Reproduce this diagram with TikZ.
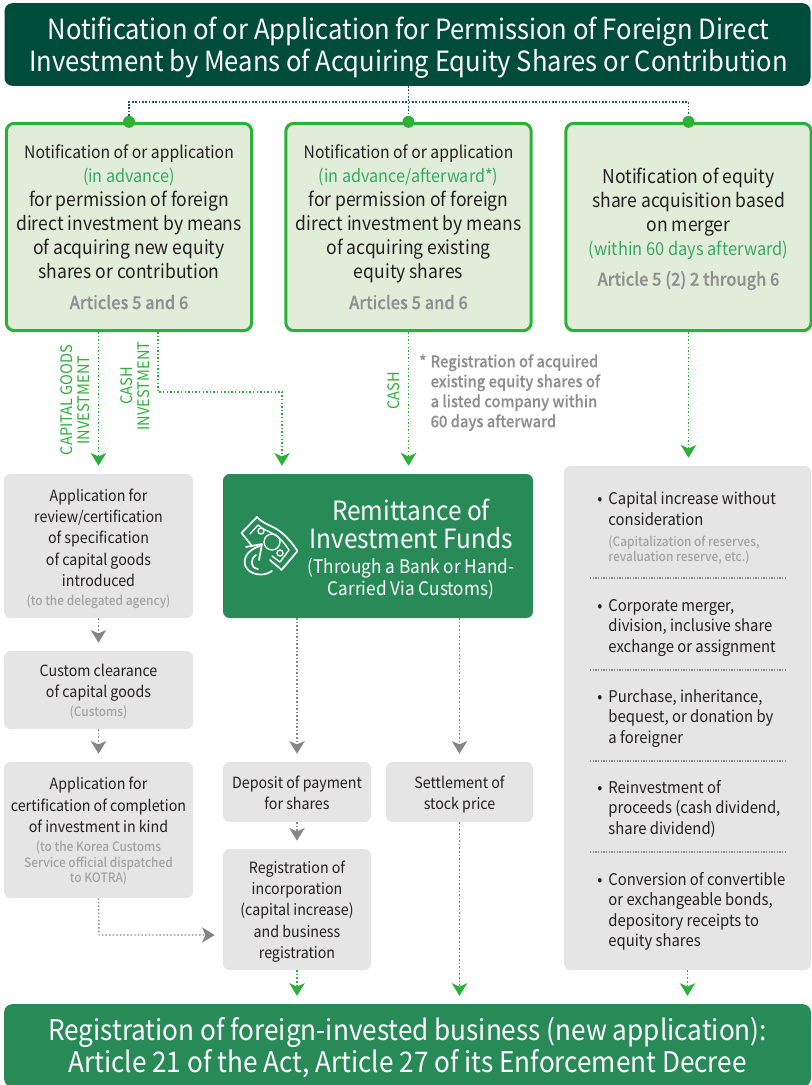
\documentclass[tikz,border=0pt]{standalone}
\usepackage{fontspec}
\setmainfont{Noto Sans CJK KR}[FakeStretch=0.92]
\newfontfamily\medfont{Noto Sans CJK KR}[UprightFont=* Medium, FakeStretch=0.92]
\newfontfamily\heavyfont{Noto Sans CJK KR}[UprightFont=* Medium, FakeStretch=0.92, FakeBold=0.3]
\usetikzlibrary{arrows.meta}
\definecolor{darkteal}{HTML}{004C3A}
\definecolor{midgreen}{HTML}{288A57}
\definecolor{linegreen}{HTML}{2BB03A}
\definecolor{palegreen}{HTML}{E1EDD8}
\definecolor{softgreen}{HTML}{37A866}
\definecolor{boxgray}{HTML}{E5E5E5}
\definecolor{notegray}{HTML}{8F8F8F}
\definecolor{subgray}{HTML}{A3A3A3}
\definecolor{arrowgray}{HTML}{858585}
\definecolor{inktext}{HTML}{231F20}
\newcommand{\fsz}[2]{\fontsize{#1}{#2}\selectfont}
\newcommand{\subtxt}[1]{{\fsz{9.7}{12}\color{subgray}\medfont #1}}
\newcommand{\arttxt}[1]{{\fsz{13.4}{18}\color{notegray}\heavyfont #1}}
\newcommand{\itembul}{\makebox[8.4pt][l]{\textbullet}}
\newcommand{\itemgap}{\hspace*{8.4pt}}
\newcommand{\topstrut}[1]{\rule{0pt}{#1}\ignorespaces}
\tikzset{
  every node/.style={inner sep=0pt, align=center, text=inktext},
  banner/.style={rounded corners=6pt, text=white},
  stepbox/.style={fill=boxgray, rounded corners=5pt, font=\fsz{11.6}{16}},
  greenbox/.style={draw=linegreen, line width=2.25pt, fill=palegreen,
    rounded corners=6pt, font=\fsz{14.3}{18}},
  listitem/.style={anchor=north west, align=left, font=\fsz{12.1}{15.4}},
  vlabel/.style={rotate=90, text=linegreen, font=\fsz{11.9}{13.2}},
  dotgreen/.style={draw=linegreen, dash pattern=on 1.1pt off 1.6pt, line width=1.1pt,
    -{Stealth[length=9.5pt, width=11.5pt, inset=2.5pt]}},
  dotgray/.style={draw=arrowgray, dash pattern=on 1.1pt off 1.6pt, line width=1.1pt,
    -{Stealth[length=9.5pt, width=11.5pt, inset=2.5pt]}},
  topline/.style={draw=darkteal!70!gray, dash pattern=on 1.1pt off 1.4pt, line width=1pt},
  divider/.style={draw=arrowgray, dash pattern=on 1pt off 1pt, line width=.8pt},
  knot/.style={circle, fill=linegreen, minimum size=9pt},
  iconline/.style={draw=white, line width=1.3pt, line join=round, line cap=round}
}
\begin{document}
\begin{tikzpicture}[x=0.75pt, y=-0.75pt]
  \useasboundingbox (0, 0) rectangle (811, 1085);

  % banners
  \node [banner, fill=darkteal, font=\fsz{20.85}{24}, minimum width=604.5pt, minimum height=62pt] (title) at (407.5, 44.5) {
    \topstrut{21.4pt}\hspace{1.5pt}Notification of or Application for Permission of Foreign Direct\\
    \hspace{1.5pt}Investment by Means of Acquiring Equity Shares or Contribution
  };
  \node [banner, fill=midgreen, font=\fsz{21.3}{24}, minimum width=605pt, minimum height=62pt] (register) at (407.5, 1045.5) {
    \topstrut{20.3pt}Registration of foreign-invested business (new application):\\
    Article 21 of the Act, Article 27 of its Enforcement Decree
  };

  % green boxes
  \node [greenbox, minimum width=184pt, minimum height=155.5pt] (newshares) at (129, 227) {
    {\fsz{12.8}{18}Notification of or application}\\
    {\fsz{13.2}{18}\color{softgreen}(in advance)}\\
    for permission of foreign\\
    direct investment by means\\
    of acquiring new equity\\
    shares or contribution\\[5pt]
    \arttxt{Articles 5 and 6}
  };
  \node [greenbox, minimum width=184pt, minimum height=155.5pt] (oldshares) at (408.5, 227) {
    {\fsz{12.8}{18}Notification of or application}\\
    {\fsz{13.2}{18}\color{softgreen}(in advance/afterward*)}\\
    for permission of foreign\\
    direct investment by means\\
    of acquiring existing\\
    equity shares\\[5pt]
    \arttxt{Articles 5 and 6}
  };
  \node [greenbox, minimum width=184pt, minimum height=155.5pt] (merger) at (688.5, 227) {
    \topstrut{14.4pt}Notification of equity\\
    share acquisition based\\
    on merger\\
    {\fsz{13.4}{18}\color{softgreen}(within 60 days afterward)}\\[5pt]
    \arttxt{Article 5 (2) 2 through 6}
  };
  \node [knot] (knotA) at (newshares.north) {};
  \node [knot] (knotB) at (oldshares.north) {};
  \node [knot] (knotC) at (merger.north) {};

  % gray boxes
  \node [stepbox, minimum width=141.75pt, minimum height=108pt] (review) at (98.5, 546) {
    \topstrut{13pt}Application for\\
    review/certification\\
    of specification\\
    of capital goods\\
    introduced\\[-2pt]
    \subtxt{(to the delegated agency)}
  };
  \node [stepbox, minimum width=141.75pt, minimum height=58.5pt] (customs) at (98.5, 690) {
    \topstrut{11.5pt}Custom clearance\\
    of capital goods\\[-1.5pt]
    \subtxt{(Customs)}
  };
  \node [stepbox, minimum width=141.75pt, minimum height=102pt] (kind) at (98.5, 830) {
    \topstrut{11.5pt}Application for\\
    certification of completion\\
    of investment in kind\\[-1.5pt]
    \subtxt{(to the Korea Customs}\\[-4.3pt]
    \subtxt{Service official dispatched}\\[-4.3pt]
    \subtxt{to KOTRA)}
  };
  \node [stepbox, minimum width=111pt, minimum height=45pt] (deposit) at (297, 792) {
    \topstrut{10.6pt}Deposit of payment\\
    for shares
  };
  \node [stepbox, minimum width=110.25pt, minimum height=45pt] (settle) at (459.5, 792) {
    \topstrut{13pt}Settlement of\\
    stock price
  };
  \node [stepbox, minimum width=111pt, minimum height=90.75pt] (incorp) at (297, 909.5) {
    \topstrut{12.3pt}Registration of\\
    incorporation\\
    (capital increase)\\
    and business\\
    registration
  };
  \node [stepbox, minimum width=185.25pt, minimum height=378pt] (kinds) at (687.5, 718) {};

  % remittance
  \node [fill=midgreen, rounded corners=5pt, minimum width=232.5pt, minimum height=108pt] (remit) at (378, 546) {};
  \node [text=white, font=\fsz{19.9}{21}] (remittext) at (411, 549) {
    Remittance of\\
    Investment Funds\\[-2.2pt]
    {\fsz{14}{16}(Through a Bank or Hand-}\\[-4.5pt]
    {\fsz{14}{16}Carried Via Customs)}
  };

  % money icon
  \draw [iconline]
    (252, 546) -- (241.5, 533) -- (257, 517)
    .. controls (268, 529) and (278, 522) .. (297.5, 551)
    -- (281.5, 570) .. controls (278, 566) and (274, 564) .. (270, 560);
  \draw [iconline, line width=1pt]
    (250, 534) -- (258, 525) .. controls (268, 534) and (276, 530) .. (289, 550)
    -- (280, 562) -- (272, 556);
  \draw [iconline, line width=1pt] (272, 542) circle [radius=8];
  \draw [iconline, line width=1pt] (261, 531) circle [radius=3];
  \draw [iconline, line width=1pt] (280, 553) circle [radius=3];
  \draw [iconline] (246, 547) -- (262, 544) -- (259, 560);
  \draw [iconline]
    (260, 546) .. controls (250, 549) and (243, 556) .. (245, 565)
    .. controls (248, 574) and (262, 578) .. (272, 571);
  \draw [iconline]
    (256, 555) .. controls (250, 559) and (250, 568) .. (258, 569);

  % right hand list
  \node [listitem] (itemA) at (597, 491) {
    \itembul Capital increase without\\[1pt]
    \itemgap consideration\\
    \itemgap\subtxt{(Capitalization of reserves,}\\[-4pt]
    \itemgap\subtxt{revaluation reserve, etc.)}
  };
  \node [listitem] (itemB) at (597, 599) {
    \itembul Corporate merger,\\
    \itemgap division, inclusive share\\
    \itemgap exchange or assignment
  };
  \node [listitem] (itemC) at (597, 689) {
    \itembul Purchase, inheritance,\\
    \itemgap bequest, or donation by\\
    \itemgap a foreigner
  };
  \node [listitem] (itemD) at (597, 780) {
    \itembul Reinvestment of\\
    \itemgap proceeds (cash dividend,\\
    \itemgap share dividend)
  };
  \node [listitem] (itemE) at (597, 872) {
    \itembul Conversion of convertible\\
    \itemgap or exchangeable bonds,\\
    \itemgap depository receipts to\\
    \itemgap equity shares
  };
  \draw [divider] (590, 578) -- (787, 578);
  \draw [divider] (590, 670) -- (787, 670);
  \draw [divider] (590, 761) -- (787, 761);
  \draw [divider] (590, 852) -- (787, 852);

  % labels
  \node [vlabel] (capitalabel) at (75, 400) {CAPITAL GOODS\\INVESTMENT};
  \node [vlabel] (cashlabel) at (135, 386) {CASH\\INVESTMENT};
  \node [vlabel] (cashonly) at (394, 391) {CASH};
  \node [anchor=north west, align=left, text=notegray, font=\fsz{12}{15}\heavyfont] (footnote) at (419, 354) {
    \makebox[8.5pt][l]{*}Registration of acquired\\
    \hspace*{8.5pt}existing equity shares of\\
    \hspace*{8.5pt}a listed company within\\
    \hspace*{8.5pt}60 days afterward
  };

  % top fork
  \coordinate (fork) at (408.5, 102);
  \draw [topline] (title.south -| fork) -- (knotB);
  \draw [topline] (knotA) |- (fork) -| (knotC);

  % green connectors
  \coordinate (cashturn) at (158, 392);
  \coordinate (cashdown) at (282, 392);
  \draw [dotgreen, shorten >=6pt] (newshares.south -| review.north) -- (review.north);
  \draw [dotgreen, shorten >=6pt] (newshares.south -| cashturn) -- (cashturn) -- (cashdown) -- (cashdown |- remit.north);
  \draw [dotgreen, shorten >=6pt] (oldshares.south) -- (oldshares.south |- remit.north);
  \draw [dotgreen, shorten >=6pt] (merger.south) -- (kinds.north -| merger.south);
  \draw [dotgreen, shorten >=6pt] (incorp.south) -- (incorp.south |- register.north);
  \draw [dotgreen, shorten >=6pt] (settle.south) -- (settle.south |- register.north);
  \draw [dotgreen, shorten >=6pt] (kinds.south) -- (kinds.south |- register.north);

  % gray connectors
  \draw [dotgray, shorten >=6pt] (review.south) -- (customs.north);
  \draw [dotgray, shorten >=6pt] (customs.south) -- (kind.north);
  \draw [dotgray, shorten >=6pt] (remit.south -| deposit.north) -- (deposit.north);
  \draw [dotgray, shorten >=6pt] (remit.south -| settle.north) -- (settle.north);
  \draw [dotgray, shorten >=6pt] (deposit.south) -- (incorp.north);
  \coordinate (kindturn) at (99, 935);
  \draw [dotgray, shorten >=6pt] (kind.south) -- (kindturn) -- (kindturn -| incorp.west);
\end{tikzpicture}
\end{document}
